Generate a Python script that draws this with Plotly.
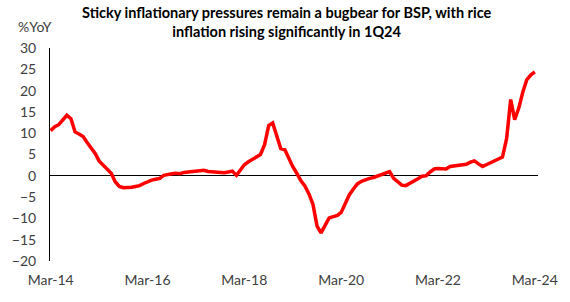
import pandas as pd
import plotly.graph_objects as go

months = pd.date_range("2014-03-01", "2024-03-01", freq="MS")

rice_inflation = [
    10.6, 11.5, 12.0, 13.2, 14.2, 13.4, 10.3, 9.8, 9.2, 7.8,
    6.6, 5.2, 3.5, 2.5, 1.5, 0.6, -1.4, -2.5, -2.8, -2.8,
    -2.7, -2.5, -2.3, -1.8, -1.4, -1.0, -0.8, -0.6, 0.1, 0.4,
    0.5, 0.6, 0.5, 0.8, 0.9, 0.9, 1.1, 1.2, 1.3, 1.0,
    0.9, 0.8, 0.7, 0.7, 0.9, 1.1, 0.1, 1.3, 2.6, 3.3,
    3.8, 4.3, 5.0, 7.3, 11.8, 12.4, 9.3, 6.4, 6.1, 4.0,
    2.2, 0.6, -1.1, -2.4, -4.2, -6.7, -11.8, -13.4, -11.5, -9.9,
    -9.6, -9.3, -8.6, -6.3, -4.5, -3.1, -1.9, -1.3, -0.9, -0.6,
    -0.4, 0.0, 0.3, 0.7, 1.0, -0.6, -1.4, -2.2, -2.3, -1.8,
    -1.4, -0.7, -0.1, 0.0, 0.9, 1.6, 1.7, 1.7, 1.6, 2.2,
    2.3, 2.4, 2.5, 2.7, 3.2, 3.5, 2.8, 2.2, 2.6, 3.1,
    3.5, 3.9, 4.4, 8.7, 17.9, 13.2, 15.9, 19.6, 22.6, 23.7,
    24.4,
]

y_ticks = [30, 25, 20, 15, 10, 5, 0, -5, -10, -15, -20]
x_tick_labels = ["Mar-14", "Mar-16", "Mar-18", "Mar-20", "Mar-22", "Mar-24"]
x_tick_vals = [pd.Timestamp(f"20{s[-2:]}-03-01") for s in x_tick_labels]

title_lines = [
    "Sticky inflationary pressures remain a bugbear for BSP, with rice",
    "inflation rising significantly in 1Q24",
]

FONT = "Lato, 'Open Sans', sans-serif"
L, R, T, B = 42, 22, 48, 41
PW, PH = 570 - L - R, 302 - T - B


def px_x(px):
    return (px - L) / PW


def px_y(py):
    return (302 - B - py) / PH


fig = go.Figure()
fig.add_trace(go.Scatter(
    x=months, y=rice_inflation, mode="lines",
    line=dict(color="#FF0000", width=3.5),
    hoverinfo="skip", showlegend=False,
))

fig.update_layout(
    width=570, height=302,
    margin=dict(l=L, r=R, t=T, b=B),
    paper_bgcolor="white", plot_bgcolor="white",
    font=dict(family=FONT, size=14, color="#404040"),
    xaxis=dict(
        type="date",
        range=["2014-02-24", "2024-03-25"],
        tickvals=x_tick_vals, ticktext=x_tick_labels,
        showgrid=False, zeroline=False, showline=False,
        ticks="outside", ticklen=6, tickcolor="rgba(0,0,0,0)",
        tickfont=dict(size=14, color="#404040"),
    ),
    yaxis=dict(
        range=[-20, 30], tickvals=y_ticks,
        showgrid=False, zeroline=True, zerolinecolor="black", zerolinewidth=1,
        showline=True, linecolor="black", linewidth=1,
        ticks="outside", ticklen=10, tickcolor="rgba(0,0,0,0)",
        tickfont=dict(size=14, color="#404040"),
    ),
    annotations=[
        dict(
            text="<b>" + "<br>".join(title_lines) + "</b>",
            xref="paper", yref="paper",
            x=px_x(288), y=px_y(21.5),
            xanchor="center", yanchor="middle", showarrow=False,
            font=dict(family=FONT, size=14.5, color="black"),
        ),
        dict(
            text="%YoY", xref="paper", yref="paper",
            x=px_x(46), y=px_y(26),
            xanchor="right", yanchor="middle", showarrow=False,
            font=dict(family=FONT, size=14, color="#404040"),
        ),
    ],
)

fig.write_html(
    "out.html",
    config={"displayModeBar": False},
    post_script="document.body.style.margin='0';",
)
